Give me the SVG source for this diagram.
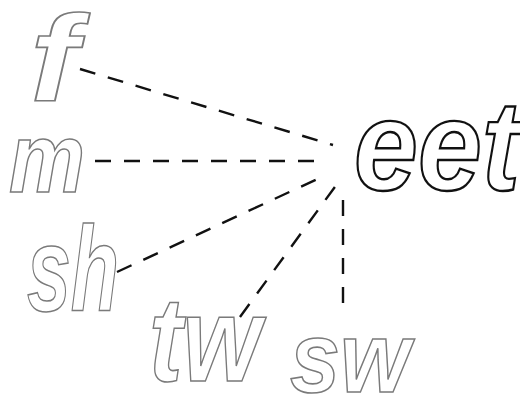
<svg xmlns="http://www.w3.org/2000/svg" width="520" height="396" viewBox="0 0 520 396">
  <style>
    .w { font-family: "Liberation Sans", Arial, sans-serif; font-style: italic; font-weight: bold; fill: #fff; stroke: #7a7a7a; stroke-width: 1.6; }
    .k { font-family: "Liberation Sans", Arial, sans-serif; font-style: italic; font-weight: bold; fill: #fff; stroke: #111; stroke-width: 2.4; }
    .d { stroke: #111; stroke-width: 2.4; stroke-dasharray: 16 13; fill: none; }
  </style>
  <rect width="520" height="396" fill="#fff"/>
  <g id="connectors">
    <line class="d" x1="80" y1="69" x2="333" y2="145"/>
    <line class="d" x1="95" y1="161" x2="324" y2="161"/>
    <line class="d" x1="117" y1="272" x2="326" y2="175"/>
    <line class="d" x1="240" y1="317" x2="337" y2="184"/>
    <line class="d" x1="343" y1="200" x2="343" y2="312"/>
  </g>
  <g id="node-f"><text class="w" x="30" y="101" font-size="122" textLength="48" lengthAdjust="spacingAndGlyphs">f</text></g>
  <g id="node-m"><text class="w" x="9" y="192" font-size="98" textLength="76" lengthAdjust="spacingAndGlyphs">m</text></g>
  <g id="node-sh"><text class="w" x="27" y="311" font-size="120" textLength="92" lengthAdjust="spacingAndGlyphs">sh</text></g>
  <g id="node-tw"><text class="w" x="149" y="381" font-size="120" textLength="112" lengthAdjust="spacingAndGlyphs">tw</text></g>
  <g id="node-sw"><text class="w" x="290" y="392" font-size="100" textLength="120" lengthAdjust="spacingAndGlyphs">sw</text></g>
  <g id="node-eet"><text class="k" x="354" y="190" font-size="128" textLength="166" lengthAdjust="spacingAndGlyphs">eet</text></g>
</svg>
